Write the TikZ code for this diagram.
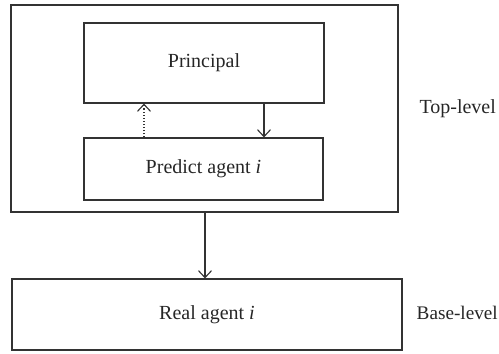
\documentclass[tikz,border=0pt]{standalone}
\usepackage{fontspec}
\setmainfont{Liberation Serif}
\usetikzlibrary{arrows.meta}
\begin{document}
\begin{tikzpicture}[x=1pt,y=-1pt,
  box/.style={draw=black!80, line width=1.1pt, inner sep=0pt},
  lbl/.style={font=\fontsize{20}{24}\selectfont, text=black!85},
  conn/.style={draw=black!80, line width=1.1pt, -{Straight Barb[length=7pt,width=13pt,line width=1.1pt]}}]
\useasboundingbox (0,0) rectangle (499,354);
\node[box, minimum width=387pt, minimum height=207pt] (outer) at (204.5,108.5) {};
\node[box, minimum width=240pt, minimum height=80pt, lbl] (principal) at (204,63) {Principal};
\node[box, minimum width=239pt, minimum height=62pt, lbl] (predict) at (203.5,169) {Predict agent \textit{i}};
\node[box, minimum width=390pt, minimum height=71pt, lbl] (real) at (207,314.5) {Real agent \textit{i}};
\node[lbl, anchor=west] (top) at (416,109) {Top-level};
\node[lbl, anchor=west, inner sep=0pt, font=\fontsize{19.2}{24}\selectfont] (base) at (416.5,313) {Base-level};
\draw[conn] (principal.south -| 264,0) -- (predict.north -| 264,0);
\draw[conn, dotted] (predict.north -| 144,0) -- (principal.south -| 144,0);
\draw[conn] (outer.south -| 205,0) -- (real.north -| 205,0);
\end{tikzpicture}
\end{document}
